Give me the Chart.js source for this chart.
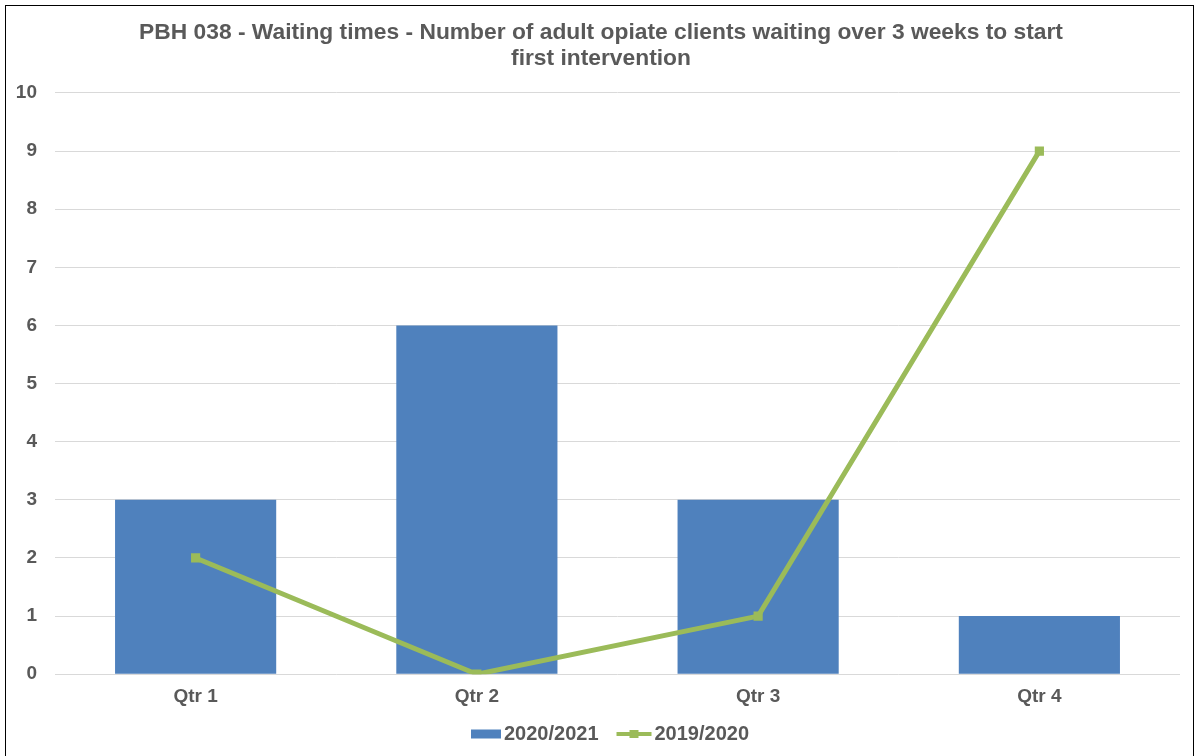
<!DOCTYPE html>
<html>
<head>
<meta charset="utf-8">
<script src="https://cdn.jsdelivr.net/npm/chart.js@4/dist/chart.umd.min.js"></script>
<style>
  html, body { margin: 0; padding: 0; background: #fff; }
  #wrap { position: absolute; left: 0; top: 0; width: 1197px; height: 756px; }
  #frame { position: absolute; left: 5px; top: 5px; width: 1189px; height: 760px; border: 1px solid #000; box-sizing: border-box; pointer-events: none; }
</style>
</head>
<body>
<div id="wrap">
  <canvas id="c" width="1197" height="756"></canvas>
  <div id="frame"></div>
</div>
<script>
const titleLines = ["PBH 038 - Waiting times - Number of adult opiate clients waiting over 3 weeks to start", "first intervention"];
const categories = ["Qtr 1", "Qtr 2", "Qtr 3", "Qtr 4"];
const series2021Label = "2020/2021";
const series2021 = [3, 6, 3, 1];
const series2019Label = "2019/2020";
const series2019 = [2, 0, 1, 9];
const yTicks = [0, 1, 2, 3, 4, 5, 6, 7, 8, 9, 10];

const BLUE = "#4F81BD";
const GREEN = "#9BBB59";
const TEXT = "#595959";
const FONT = "'Liberation Sans', Arial, sans-serif";

// legend icons: visible content placed in right part of a wider transparent canvas
function makeRectIcon() {
  const c = document.createElement("canvas");
  c.width = 55; c.height = 10;
  const x = c.getContext("2d");
  x.fillStyle = BLUE; x.fillRect(25, 0.5, 30, 9);
  return c;
}
function makeLineIcon() {
  const c = document.createElement("canvas");
  c.width = 57; c.height = 10;
  const x = c.getContext("2d");
  x.fillStyle = GREEN;
  x.fillRect(21, 3, 35, 4);
  x.fillRect(34, 1, 9, 8);
  return c;
}
const rectIcon = makeRectIcon();
const lineIcon = makeLineIcon();

// let y-axis labels extend left of the axis box without clipping
const noLabelClip = {
  id: "noLabelClip",
  afterUpdate(chart) {
    const y = chart.scales.y;
    if (y) y._computeLabelArea = function () { return undefined; };
  }
};

new Chart(document.getElementById("c"), {
  data: {
    labels: categories,
    datasets: [
      {
        type: "line",
        label: series2019Label,
        data: series2019,
        borderColor: GREEN,
        backgroundColor: GREEN,
        borderWidth: 5,
        pointStyle: "rect",
        pointRadius: 6.5,
        pointBackgroundColor: GREEN,
        pointBorderColor: GREEN,
        pointBorderWidth: 0,
        tension: 0
      },
      {
        type: "bar",
        label: series2021Label,
        data: series2021,
        backgroundColor: BLUE,
        borderWidth: 0,
        categoryPercentage: 1,
        barPercentage: 0.573
      }
    ]
  },
  plugins: [noLabelClip],
  options: {
    responsive: false,
    animation: false,
    layout: { padding: { left: 22, right: 17, top: 0, bottom: 2 } },
    plugins: {
      tooltip: { enabled: false },
      title: {
        display: true,
        text: titleLines,
        color: TEXT,
        font: { family: FONT, size: 22.8, weight: "bold", lineHeight: 1.14 },
        padding: { top: 20, bottom: 21 }
      },
      legend: {
        position: "bottom",
        labels: {
          usePointStyle: true,
          pointStyleWidth: 41,
          color: TEXT,
          font: { family: FONT, size: 20, weight: "bold" },
          padding: 5,
          generateLabels: function (chart) {
            return [
              { text: series2021Label, pointStyle: rectIcon, fillStyle: BLUE, strokeStyle: BLUE, lineWidth: 0, fontColor: TEXT, datasetIndex: 1 },
              { text: series2019Label, pointStyle: lineIcon, fillStyle: GREEN, strokeStyle: GREEN, lineWidth: 0, fontColor: TEXT, datasetIndex: 0 }
            ];
          }
        }
      }
    },
    scales: {
      x: {
        grid: { display: false, drawTicks: false },
        border: { display: false },
        ticks: { color: TEXT, font: { family: FONT, size: 19, weight: "bold" }, padding: 11 }
      },
      y: {
        min: 0,
        max: 10,
        afterFit: function (scale) { scale.width = 33; },
        afterBuildTicks: function (scale) { scale.ticks = yTicks.map(v => ({ value: v })); },
        grid: { color: "#D9D9D9", lineWidth: 1, drawTicks: false },
        border: { display: false },
        ticks: { color: TEXT, font: { family: FONT, size: 19, weight: "bold" }, padding: 18, stepSize: 1 }
      }
    }
  }
});
</script>
</body>
</html>
